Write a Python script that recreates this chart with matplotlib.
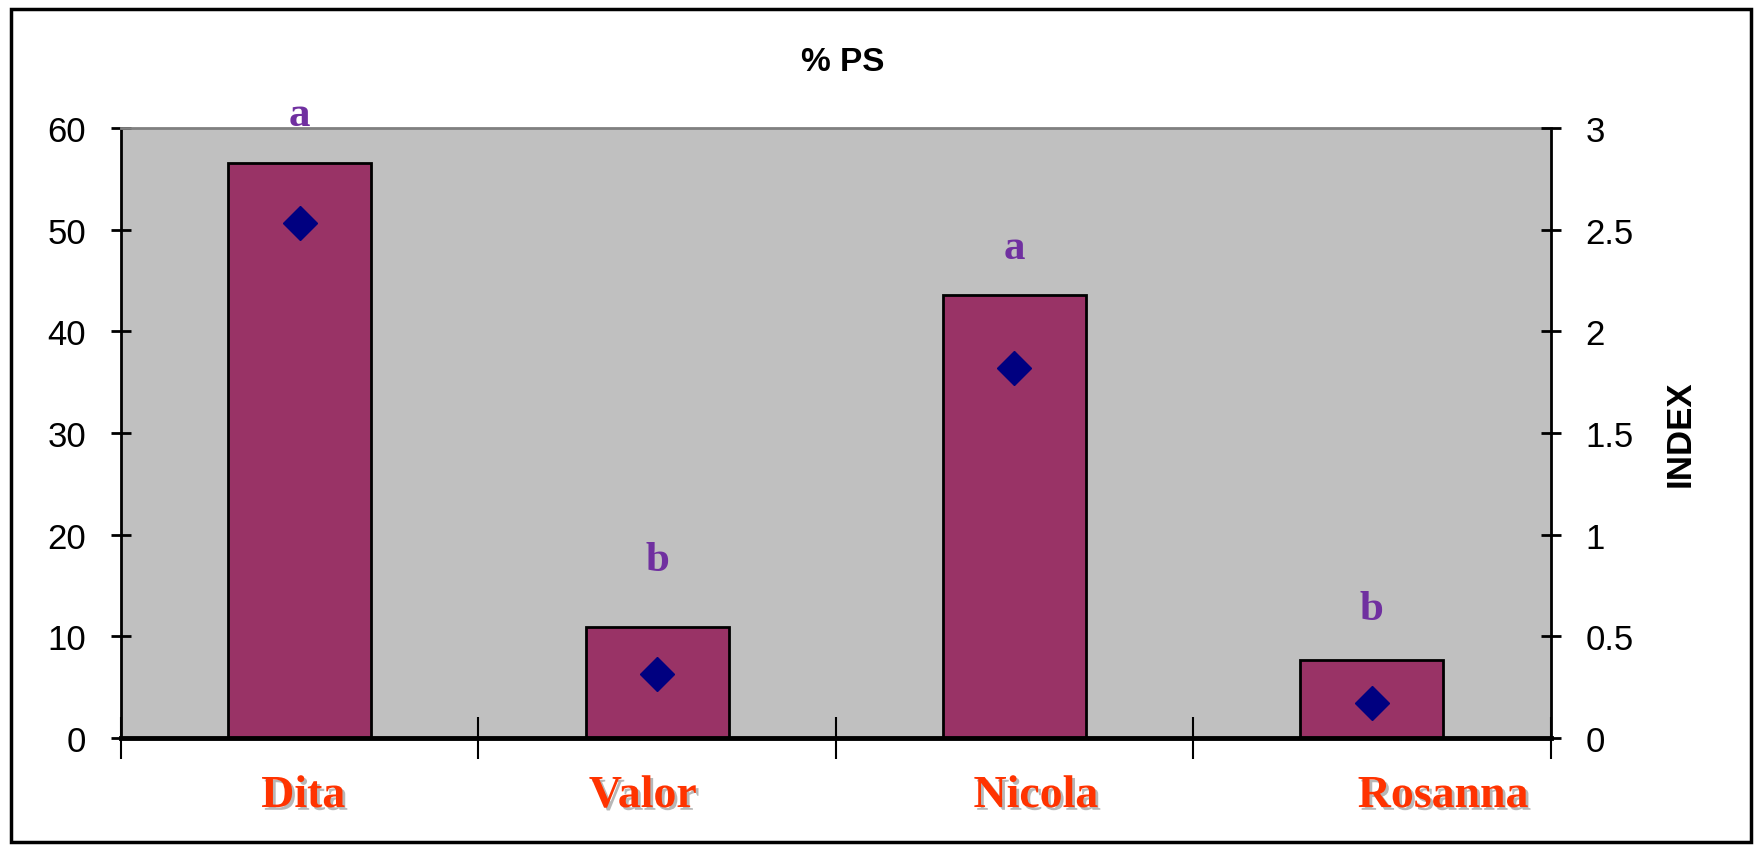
import matplotlib.pyplot as plt
import matplotlib.patheffects as pe
from matplotlib.patches import Rectangle

# Data
varieties = ['Dita', 'Valor', 'Nicola', 'Rosanna']
ps_percent = [56.5, 10.9, 43.6, 7.7]
index_values = [2.53, 0.315, 1.82, 0.17]
letters = ['a', 'b', 'a', 'b']
letter_y = [61.3, 17.5, 48.2, 12.7]

plt.rcParams['font.family'] = ['Liberation Sans', 'DejaVu Sans']

fig = plt.figure(figsize=(17.62, 8.53), dpi=100)
ax = fig.add_axes([0.0687, 0.1336, 0.8113, 0.7154])
ax.set_facecolor('#C0C0C0')

x = range(len(varieties))
ax.bar(x, ps_percent, width=0.4, color='#993366', edgecolor='black',
       linewidth=2, zorder=2)

ax.set_xlim(-0.5, len(varieties) - 0.5)
ax.set_ylim(0, 60)
ax.set_yticks(range(0, 61, 10))
ax.tick_params(axis='y', direction='inout', length=14, width=2,
               labelsize=25, pad=18)

# Category separators as major ticks
ax.set_xticks([i - 0.5 for i in range(len(varieties) + 1)])
ax.set_xticklabels([])
ax.tick_params(axis='x', which='major', direction='inout', length=30,
               width=1.5)

# Category names (slightly shifted as in the original layout)
label_shift = [0.01, -0.04, 0.06, 0.2]
shadow = [pe.withSimplePatchShadow(offset=(2, -2), shadow_rgbFace='#888888',
                                   alpha=0.6)]
for i, name in enumerate(varieties):
    ax.text(i + label_shift[i], -0.095, name, transform=ax.get_xaxis_transform(),
            ha='center', va='center', family='Liberation Serif',
            fontweight='bold', fontsize=33, color='#FF3300',
            path_effects=shadow, clip_on=False)

for spine in ['left', 'right']:
    ax.spines[spine].set_linewidth(2)
ax.spines['bottom'].set_linewidth(3.5)
ax.spines['top'].set_color('#808080')
ax.spines['top'].set_linewidth(2)

# Significance letters
for i, (lt, ly) in enumerate(zip(letters, letter_y)):
    ax.text(i, ly, lt, ha='center', va='center', family='Liberation Serif',
            fontweight='bold', fontsize=31, color='#7030A0', clip_on=False,
            zorder=4)

# Secondary axis for the index
ax2 = ax.twinx()
ax2.plot(list(x), index_values, linestyle='none', marker='D',
         markersize=17, color='#000080', zorder=5)
ax2.set_ylim(0, 3)
ax2.set_yticks([0, 0.5, 1, 1.5, 2, 2.5, 3])
ax2.set_yticklabels(['0', '0.5', '1', '1.5', '2', '2.5', '3'])
ax2.tick_params(axis='y', direction='inout', length=14, width=2,
                labelsize=25, pad=18)
ax2.set_ylabel('INDEX', fontsize=25, fontweight='bold', labelpad=22)
for spine in ax2.spines.values():
    spine.set_visible(False)

fig.text(0.478, 0.927, '% PS', ha='center', va='center', fontsize=24,
         fontweight='bold')

# Outer border of the chart
fig.patches.append(Rectangle((0.006, 0.012), 0.988, 0.976,
                             transform=fig.transFigure, fill=False,
                             edgecolor='black', linewidth=2.5))

fig.savefig('out.png', dpi=100)
